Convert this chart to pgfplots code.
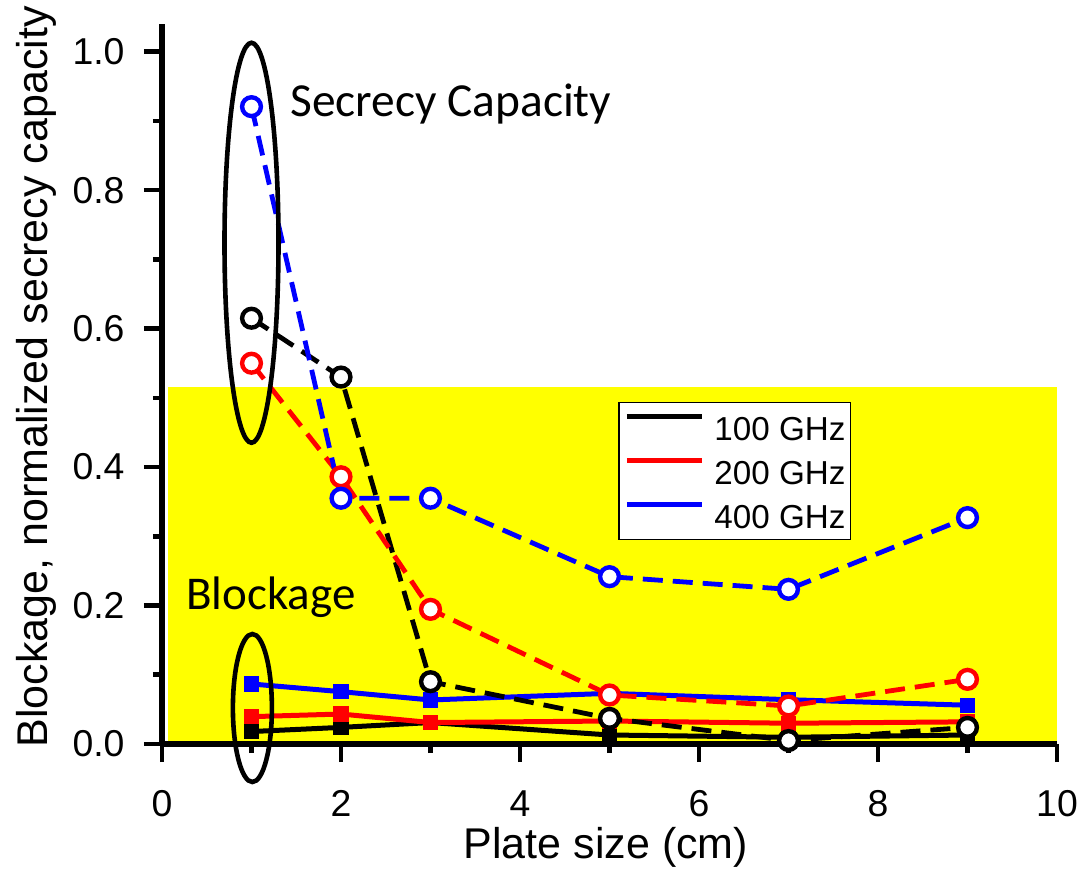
\documentclass[border=0pt]{standalone}
\usepackage{fontspec}
\setmainfont{Liberation Sans}
\newfontfamily\calibri{Carlito}
\usepackage{pgfplots}
\pgfplotsset{compat=1.18}
\definecolor{pyellow}{RGB}{255,255,0}
\begin{document}
\begin{tikzpicture}
\begin{axis}[
  scale only axis,
  width=447.5pt, height=360pt,
  xmin=0, xmax=10, ymin=0, ymax=1.04,
  clip=false,
  axis lines=left,
  axis line style={-, line width=2.7pt, black},
  tick align=outside,
  xtick={0,2,4,6,8,10},
  minor xtick={1,3,5,7,9},
  ytick={0,0.2,0.4,0.6,0.8,1.0},
  minor ytick={0.1,0.3,0.5,0.7,0.9},
  major tick length=9pt,
  minor tick length=4.5pt,
  tick style={line width=2.3pt, black},
  /pgf/number format/assume math mode=true,
  /pgf/number format/fixed,
  yticklabel style={/pgf/number format/fixed zerofill, /pgf/number format/precision=1},
  xticklabel shift=10.8pt,
  yticklabel shift=6.2pt,
  ticklabel style={font=\fontsize{18.7}{20}\selectfont},
  xlabel={Plate size (cm)},
  ylabel={Blockage, normalized secrecy capacity},
  label style={font=\fontsize{21.5}{24}\selectfont},
  xlabel style={at={(axis description cs:0.496,0)}, anchor=base, yshift=-57pt},
  ylabel style={at={(axis description cs:-0.1274,0.51)}, anchor=base, rotate=0},
  legend style={at={(axis cs:5.1,0.494)}, anchor=north west, draw=black, line width=0.6pt, fill=white,
    font=\fontsize{16.6}{18}\selectfont, inner xsep=2.7pt, inner ysep=5.5pt,
    row sep=9pt, column sep=5pt,
    nodes={inner sep=0pt, text height=11.9pt, text depth=0pt}},
  legend cell align=left,
  legend image code/.code={\draw[#1, line width=2.5pt] (0pt,6pt) -- (37.5pt,6pt);},
]
\fill[pyellow] (axis cs:0.07,0.004) rectangle (axis cs:10,0.515);
\coordinate (O) at (axis cs:0,0);

\addlegendimage{black}
\addlegendentry{100 GHz}
\addlegendimage{red}
\addlegendentry{200 GHz}
\addlegendimage{blue}
\addlegendentry{400 GHz}

% Blockage (solid, squares)
\addplot[forget plot, black, line width=2.5pt, mark=square*, mark size=3.6pt, mark options={line width=0.5pt}] coordinates {
(1,0.018) (2,0.024) (3,0.031) (5,0.013) (7,0.0097) (9,0.013)};
\addplot[forget plot, red, line width=2.5pt, mark=square*, mark size=3.6pt, mark options={line width=0.5pt}] coordinates {
(1,0.0395) (2,0.0433) (3,0.031) (5,0.0332) (7,0.030) (9,0.032)};
\addplot[forget plot, blue, line width=2.5pt, mark=square*, mark size=3.6pt, mark options={line width=0.5pt}] coordinates {
(1,0.0867) (2,0.0756) (3,0.0636) (5,0.0732) (7,0.064) (9,0.056)};

% Secrecy capacity (dashed, open circles)
\addplot[forget plot, black, line width=2.4pt, dash pattern=on 10pt off 5pt, mark=*, mark size=4.7pt, mark options={solid, fill=white, line width=2.2pt}] coordinates {
(1,0.615) (2,0.530) (3,0.090) (5,0.037) (7,0.005) (9,0.024)};
\addplot[forget plot, red, line width=2.4pt, dash pattern=on 10pt off 5pt, mark=*, mark size=4.7pt, mark options={solid, fill=white, line width=2.2pt}] coordinates {
(1,0.550) (2,0.386) (3,0.1945) (5,0.0708) (7,0.0549) (9,0.0934)};
\addplot[forget plot, blue, line width=2.4pt, dash pattern=on 10pt off 5pt, mark=*, mark size=4.7pt, mark options={solid, fill=white, line width=2.2pt}] coordinates {
(1,0.9206) (2,0.355) (3,0.355) (5,0.2417) (7,0.2234) (9,0.327)};

\draw[black, line width=2.3pt] (axis cs:1.0,0.724) ellipse [x radius=13.5pt, y radius=100pt];
\draw[black, line width=2.3pt] (axis cs:1.01,0.052) ellipse [x radius=9.75pt, y radius=37pt];
\node[anchor=base west, inner sep=0pt, font=\calibri\fontsize{23.7}{26}\selectfont] at (axis cs:1.43,0.907) {Secrecy Capacity};
\node[anchor=base west, inner sep=0pt, font=\calibri\fontsize{23.5}{26}\selectfont] at (axis cs:0.268,0.1936) {Blockage};
\end{axis}
\pgfresetboundingbox
\path[use as bounding box] ([shift={(-81pt,-62pt)}]O) rectangle ++(540.5pt,434pt);
\end{tikzpicture}
\end{document}
